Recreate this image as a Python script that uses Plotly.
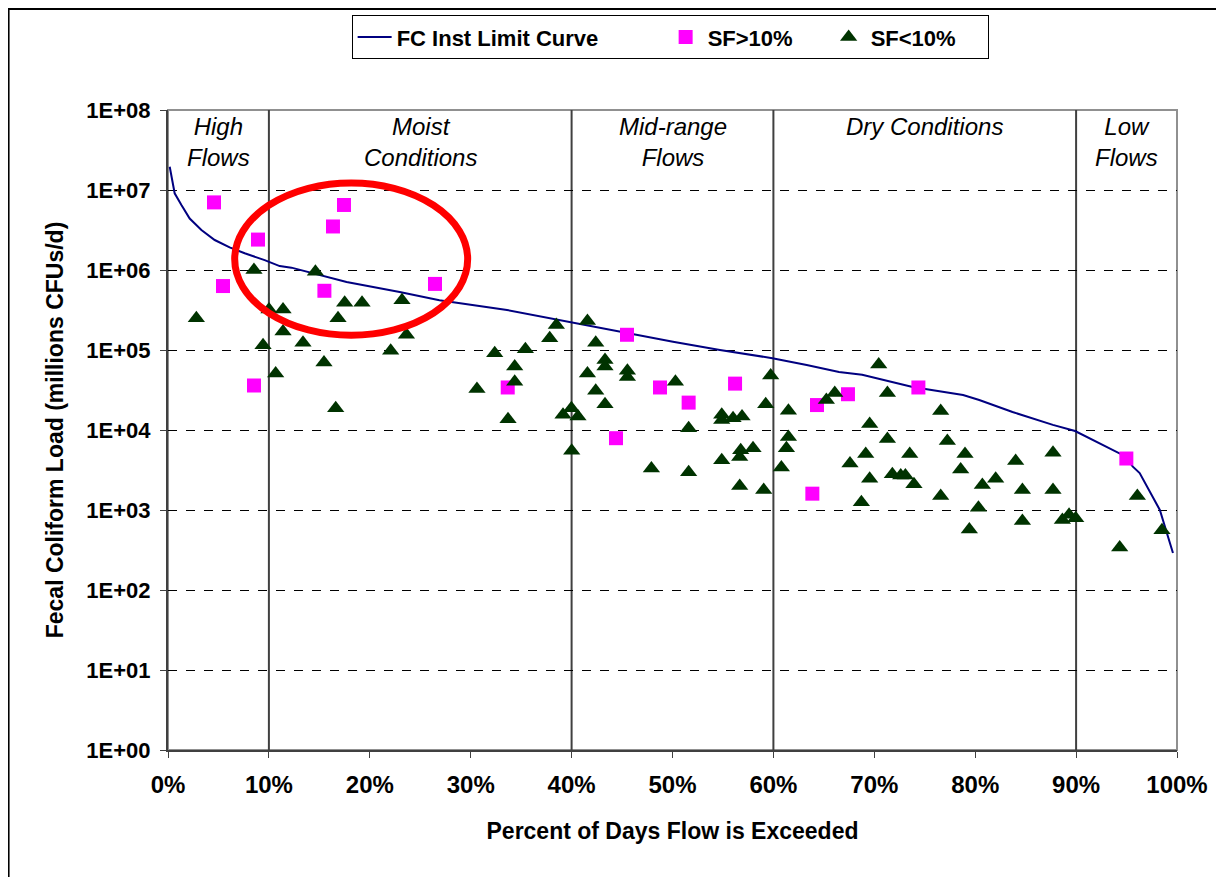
import plotly.graph_objects as go

# ---------------- data ----------------
curve_x = [0.17, 0.34, 0.66, 1.33, 2.15, 3.31, 4.63, 6.11, 7.6, 9.58, 11.07, 12.23,
           14.6, 17.7, 22.96, 26.9, 33.6, 40.1, 45.5, 50.05, 54.7, 59.9, 63.3, 66.5,
           68.8, 73.8, 78.8, 80.4, 83.7, 85.3, 87.7, 89.9, 92.3, 95.0, 95.6, 96.3,
           98.3, 99.6]
curve_y = [1.95e7, 1.48e7, 9.1e6, 6.5e6, 4.4e6, 3.16e6, 2.37e6, 1.92e6, 1.62e6, 1.33e6, 1.12e6, 1.07e6,
           8.9e5, 7.1e5, 5.3e5, 4.2e5, 3.16e5, 2.2e5, 1.63e5, 1.27e5, 1.0e5, 7.9e4, 6.5e4, 5.3e4,
           4.9e4, 3.45e4, 2.74e4, 2.37e4, 1.68e4, 1.45e4, 1.16e4, 9.7e3, 6.8e3, 4.6e3, 3.5e3, 2.9e3,
           1.0e3, 2.9e2]

sf_hi_x = [4.56, 5.45, 8.52, 8.92, 15.5, 16.35, 17.44, 26.46, 33.67, 44.4, 45.49, 48.76,
           51.6, 56.2, 63.86, 64.32, 67.39, 74.37, 94.98]
sf_hi_y = [7.0e6, 6.3e5, 3.6e4, 2.4e6, 5.5e5, 3.5e6, 6.5e6, 6.7e5, 3.4e4, 7.9e3, 1.55e5, 3.4e4,
           2.2e4, 3.8e4, 1.6e3, 2.05e4, 2.8e4, 3.4e4, 4.4e3]

sf_lo_x = [2.81, 8.52, 14.61, 10.01, 11.4, 17.51, 19.23, 23.19, 16.85, 11.4, 23.63, 9.42,
           13.38, 22.07, 15.46, 10.67, 16.62, 38.49, 37.83, 41.57, 32.38, 35.42, 42.39, 34.36,
           34.36, 30.62, 33.7, 43.31, 43.31, 41.57, 45.53, 45.53, 42.39, 43.31, 50.29, 39.98,
           39.15, 40.63, 40.01, 51.6, 54.88, 54.88, 56.0, 56.89, 47.91, 51.6, 54.88, 56.76,
           56.66, 57.98, 56.66, 59.04, 59.73, 59.24, 61.49, 61.49, 61.29, 60.79, 65.25, 66.08,
           70.44, 71.3, 76.58, 69.54, 71.3, 77.24, 69.15, 73.51, 67.59, 78.99, 78.56, 69.54,
           71.79, 72.62, 73.08, 73.93, 68.72, 76.58, 80.71, 82.03, 80.32, 79.42, 84.01, 84.68,
           84.68, 87.71, 87.71, 88.64, 89.3, 89.96, 96.07, 94.32, 98.51]
sf_lo_y = [2.5e5, 1.0e6, 9.5e5, 3.2e5, 3.2e5, 3.9e5, 3.9e5, 4.2e5, 2.5e5, 1.7e5, 1.55e5, 1.15e5,
           1.23e5, 9.8e4, 7.0e4, 5.1e4, 1.87e4, 2.05e5, 1.4e5, 2.3e5, 9.1e4, 1.02e5, 1.23e5, 6.2e4,
           4.0e4, 3.25e4, 1.36e4, 7.5e4, 6.2e4, 5.1e4, 5.5e4, 4.6e4, 3.1e4, 2.1e4, 4.0e4, 1.87e4,
           1.55e4, 1.47e4, 5.5e3, 1.05e4, 1.55e4, 1.33e4, 1.4e4, 1.47e4, 3.3e3, 2.96e3, 4.2e3, 5.6e3,
           4.6e3, 5.9e3, 2.0e3, 1.78e3, 4.8e4, 2.1e4, 1.74e4, 8.2e3, 5.9e3, 3.4e3, 2.37e4, 2.9e4,
           6.6e4, 2.9e4, 1.73e4, 1.19e4, 7.7e3, 7.3e3, 5.0e3, 5.0e3, 3.8e3, 5.0e3, 3.2e3, 2.46e3,
           2.8e3, 2.7e3, 2.7e3, 2.1e3, 1.25e3, 1.5e3, 2.05e3, 2.45e3, 1.07e3, 5.7e2, 4.1e3, 1.78e3,
           7.3e2, 5.2e3, 1.78e3, 7.5e2, 8.7e2, 7.9e2, 1.5e3, 3.4e2, 5.6e2]

zone_bounds = [10, 40, 60, 90]
zone_labels = ["High<br>Flows", "Moist<br>Conditions", "Mid-range<br>Flows",
               "Dry Conditions", "Low<br>Flows"]
zone_label_x = [5, 25, 50, 75, 95]

x_tick_vals = [0, 10, 20, 30, 40, 50, 60, 70, 80, 90, 100]
x_tick_text = ["0%", "10%", "20%", "30%", "40%", "50%", "60%", "70%", "80%", "90%", "100%"]
y_tick_vals = [1e0, 1e1, 1e2, 1e3, 1e4, 1e5, 1e6, 1e7, 1e8]
y_tick_text = ["1E+00", "1E+01", "1E+02", "1E+03", "1E+04", "1E+05", "1E+06", "1E+07", "1E+08"]

FONT = "Liberation Sans, Arial, sans-serif"

fig = go.Figure()
fig.add_trace(go.Scatter(x=curve_x, y=curve_y, mode="lines", name="FC Inst Limit Curve",
                         line=dict(color="#000080", width=2), legendwidth=262))
fig.add_trace(go.Scatter(x=sf_hi_x, y=sf_hi_y, mode="markers", name="SF>10%",
                         marker=dict(symbol="square", size=14, color="#FF00FF",
                                     line=dict(width=0)), legendwidth=114))
fig.add_trace(go.Scatter(x=sf_lo_x, y=sf_lo_y, mode="markers", name="SF<10%",
                         marker=dict(symbol="triangle-up", size=15, color="#003300",
                                     line=dict(width=0)), legendwidth=112))

shapes = []
# plot-area border (gray)
shapes.append(dict(type="rect", xref="paper", yref="paper", x0=0, x1=1, y0=0, y1=1,
                   line=dict(color="#909090", width=2), layer="below"))
# outer chart frame
shapes.append(dict(type="rect", xref="paper", yref="paper", x0=-0.158, x1=1.2, y0=-0.4, y1=1.158,
                   line=dict(color="black", width=2), layer="below"))
for b in zone_bounds:
    shapes.append(dict(type="line", xref="x", yref="paper", x0=b, x1=b, y0=0, y1=1,
                       line=dict(color="#404040", width=2), layer="below"))
# red ellipse highlight
shapes.append(dict(type="circle", xref="paper", yref="paper", x0=0.0661, x1=0.297,
                   y0=0.648, y1=0.886, line=dict(color="#FF0000", width=7), layer="above"))

annotations = []
for lx, lt in zip(zone_label_x, zone_labels):
    annotations.append(dict(x=lx, y=0.998, xref="x", yref="paper", text=lt, showarrow=False,
                            xanchor="center", yanchor="top",
                            font=dict(family=FONT, size=24, style="italic", color="black")))

# page body has an 8px margin, so the figure is offset by 8px in x and y
fig.update_layout(
    width=1216, height=869,
    margin=dict(l=160, r=47, t=102, b=127, autoexpand=False),
    paper_bgcolor="white", plot_bgcolor="white",
    font=dict(family=FONT, color="black"),
    showlegend=True,
    legend=dict(orientation="h", x=0.182, xanchor="left", y=1.148, yanchor="top",
                bordercolor="black", borderwidth=1, bgcolor="white",
                font=dict(family=FONT, size=22, weight="bold", color="black"),
                itemwidth=34),
    shapes=shapes,
    annotations=annotations,
    xaxis=dict(range=[0, 100], tickvals=x_tick_vals, ticktext=x_tick_text,
               showgrid=False, zeroline=False, showline=True, linecolor="#404040", linewidth=2,
               ticks="outside", ticklen=6, tickcolor="#404040", tickwidth=1,
               ticklabelstandoff=6,
               tickfont=dict(family=FONT, size=24, weight="bold", color="black"),
               title=dict(text="Percent of Days Flow is Exceeded", standoff=26,
                          font=dict(family=FONT, size=23, weight="bold", color="black"))),
    yaxis=dict(type="log", range=[0, 8], tickvals=y_tick_vals, ticktext=y_tick_text,
               showgrid=True, gridcolor="black", gridwidth=1, griddash="dash",
               zeroline=False, showline=True, linecolor="#404040", linewidth=2,
               ticks="outside", ticklen=6, tickcolor="#404040", tickwidth=1,
               ticklabelstandoff=5,
               tickfont=dict(family=FONT, size=22, weight="bold", color="black"),
               title=dict(text="Fecal Coliform Load (millions CFUs/d)", standoff=16,
                          font=dict(family=FONT, size=23, weight="bold", color="black"))),
)

fig.write_html("out.html")
